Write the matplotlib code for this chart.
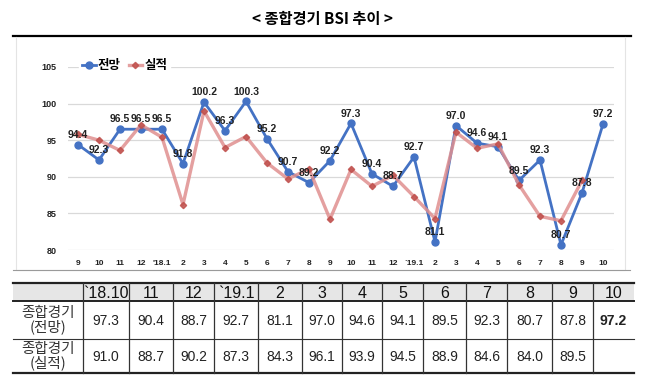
import matplotlib
matplotlib.use('Agg')
import matplotlib.pyplot as plt
import numpy as np

plt.rcParams['font.family'] = ['Liberation Sans', 'Noto Sans CJK KR', 'DejaVu Sans']

# month labels ('17.9 ~ '19.10)
months = ['9', '10', '11', '12', "'18.1", '2', '3', '4', '5', '6', '7', '8',
          '9', '10', '11', '12', '`19.1', '2', '3', '4', '5', '6', '7', '8', '9', '10']
# 전망 (outlook)
outlook = [94.4, 92.3, 96.5, 96.5, 96.5, 91.8, 100.2, 96.3, 100.3, 95.2, 90.7, 89.2,
           92.2, 97.3, 90.4, 88.7, 92.7, 81.1, 97.0, 94.6, 94.1, 89.5, 92.3, 80.7, 87.8, 97.2]
# 실적 (actual), no value yet for the last month
actual = [95.8, 95.0, 93.6, 97.1, 95.4, 86.2, 99.0, 94.0, 95.5, 91.9, 89.7, 91.1,
          84.2, 91.0, 88.7, 90.2, 87.3, 84.3, 96.1, 93.9, 94.5, 88.9, 84.6, 84.0, 89.5]

table_cols = ['`18.10', '11', '12', '`19.1', '2', '3', '4', '5', '6', '7', '8', '9', '10']
row_labels = ['종합경기\n(전망)', '종합경기\n(실적)']

W, H = 653, 384
fig = plt.figure(figsize=(W / 100, H / 100), dpi=100)

# overlay in pixel coords for title, frame and table
ov = fig.add_axes([0, 0, 1, 1])
ov.set_xlim(0, W)
ov.set_ylim(H, 0)
ov.axis('off')

ov.text(322, 19, '< 종합경기 BSI 추이 >', ha='center', va='center', fontsize=11,
        fontweight='bold', family=['Noto Sans CJK KR', 'DejaVu Sans'])
ov.plot([13, 631], [36, 36], color='black', lw=1.6)
ov.plot([16, 16, 625, 625], [37, 270, 270, 37], color='#e4e4e4', lw=0.8)
ov.plot([13, 630], [270, 270], color='#9a9a9a', lw=0.8)

# table
bounds = [13, 83, 129, 173, 214, 258, 302, 342, 382, 423, 466, 507, 552, 593, 634]
y_top, y_head, y_mid, y_bot = 283, 301, 339, 373
ov.fill_between([13, 634], y_top, y_head, color='#e6e6e6', lw=0)
ov.plot([13, 634], [y_top, y_top], color='#222222', lw=1.6)
ov.plot([13, 634], [y_head, y_head], color='#222222', lw=1.4)
ov.plot([13, 634], [y_mid, y_mid], color='#333333', lw=0.8)
ov.plot([13, 634], [y_bot, y_bot], color='#222222', lw=1.6)
for bx in bounds[1:-1]:
    ov.plot([bx, bx], [y_top, y_bot], color='#333333', lw=0.9)

n_tab = len(table_cols)
tab_out = outlook[-n_tab:]
tab_act = actual[-(n_tab - 1):]
for i, col in enumerate(table_cols):
    cx = (bounds[i + 1] + bounds[i + 2]) / 2
    ov.text(cx, (y_top + y_head) / 2 + 1, col, ha='center', va='center', fontsize=11.5,
            color='#111111')
    ov.text(cx, (y_head + y_mid) / 2 + 1, f'{tab_out[i]:.1f}', ha='center', va='center',
            fontsize=10, fontweight='bold' if i == n_tab - 1 else 'normal', color='#222222')
    if i < len(tab_act):
        ov.text(cx, (y_mid + y_bot) / 2 + 1, f'{tab_act[i]:.1f}', ha='center', va='center',
                fontsize=10, color='#222222')
for lbl, (ya, yb) in zip(row_labels, [(y_head, y_mid), (y_mid, y_bot)]):
    ov.text(48, (ya + yb) / 2, lbl, ha='center', va='center', fontsize=10.5,
            linespacing=0.95, color='#333333', family=['Noto Sans CJK KR', 'DejaVu Sans'])

# line chart
ax = fig.add_axes([67.5 / W, 1 - 250 / H, 546 / W, 183 / H])
ax.patch.set_alpha(0)
x = np.arange(len(months))
ax.plot(x, outlook, color='#4472C4', lw=2.0, marker='o', markersize=5, label='전망', zorder=3)
ax.plot(np.arange(len(actual)), actual, color='#E08F8F', alpha=0.85, lw=2.4, marker='D',
        markersize=3.2, markerfacecolor='#C0504D', markeredgecolor='#C0504D',
        label='실적', zorder=4)
for xi, v in zip(x, outlook):
    ax.annotate(f'{v:.1f}', (xi, v), xytext=(0, 3.5), textcoords='offset points',
                ha='center', va='bottom', fontsize=7.5, fontweight='bold', color='#222222',
                zorder=5)

ax.set_xlim(-0.5, len(months) - 0.5)
ax.set_ylim(80, 105)
ax.set_yticks(np.arange(80, 106, 5))
ax.set_xticks(x)
ax.set_xticklabels(months)
ax.tick_params(axis='both', length=0, labelsize=6, colors='#222222')
ax.tick_params(axis='x', pad=7)
ax.tick_params(axis='y', pad=8, labelsize=6.5)
for t in ax.get_xticklabels() + ax.get_yticklabels():
    t.set_fontweight('bold')
ax.grid(axis='y', color='#d9d9d9', lw=0.9)
ax.set_axisbelow(True)
for s in ax.spines.values():
    s.set_visible(False)

leg = ax.legend(loc='center left', bbox_to_anchor=(73 / W, 1 - 65.5 / H),
                bbox_transform=fig.transFigure, ncol=2, frameon=True, framealpha=1,
                edgecolor='white', handlelength=1.1, handletextpad=0.2, columnspacing=0.6,
                borderpad=0.2,
                prop={'family': ['Noto Sans CJK KR', 'DejaVu Sans'], 'weight': 'bold', 'size': 9})

fig.savefig('out.png', dpi=100)
